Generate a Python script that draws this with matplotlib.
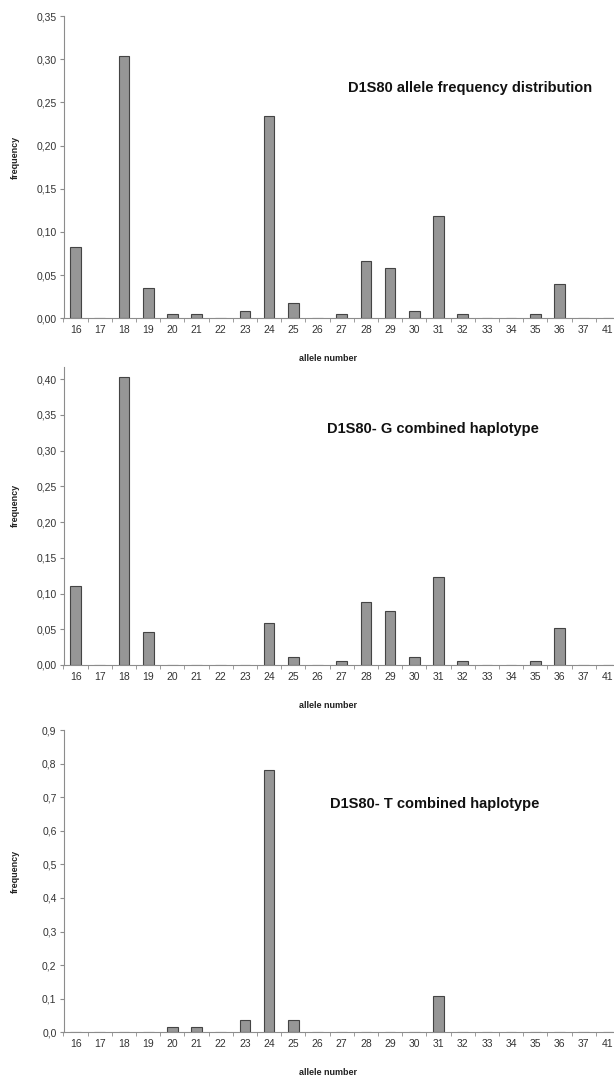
import matplotlib
matplotlib.use("Agg")
import matplotlib.pyplot as plt
import numpy as np

plt.rcParams['font.family'] = ['Liberation Sans', 'DejaVu Sans']

alleles = ["16", "17", "18", "19", "20", "21", "22", "23", "24", "25", "26", "27",
           "28", "29", "30", "31", "32", "33", "34", "35", "36", "37", "41"]

# frequencies
freq_all = [0.083, 0, 0.304, 0.035, 0.0045, 0.0045, 0, 0.009, 0.234, 0.018, 0, 0.0045,
            0.066, 0.058, 0.009, 0.118, 0.0045, 0, 0, 0.0045, 0.040, 0, 0]
freq_g = [0.111, 0, 0.403, 0.046, 0, 0, 0, 0, 0.059, 0.011, 0, 0.0056,
          0.088, 0.076, 0.011, 0.123, 0.0056, 0, 0, 0.0056, 0.052, 0, 0]
freq_t = [0, 0, 0, 0, 0.0167, 0.0167, 0, 0.037, 0.781, 0.037, 0, 0,
          0, 0, 0, 0.109, 0, 0, 0, 0, 0, 0, 0]

titles = ["D1S80 allele frequency distribution",
          "D1S80- G combined haplotype",
          "D1S80- T combined haplotype"]

W, H = 614, 1077
fig = plt.figure(figsize=(W / 100, H / 100), dpi=100)

# (top px, bottom px, ymax, yticks, fmt, title centre px)
panels = [
    (16, 318.3, 0.35, np.arange(0, 0.351, 0.05), "{:.2f}", (470, 88)),
    (366.7, 665, 0.4176, np.arange(0, 0.401, 0.05), "{:.2f}", (433, 429)),
    (730, 1032.3, 0.9, np.arange(0, 0.91, 0.1), "{:.1f}", (435, 804)),
]
data = [freq_all, freq_g, freq_t]
left_px, right_px = 63.5, 620
x = np.arange(len(alleles))

for (top, bot, ymax, yt, fmt, tpos), vals, title in zip(panels, data, titles):
    ax = fig.add_axes([left_px / W, 1 - bot / H, (right_px - left_px) / W, (bot - top) / H])
    ax.bar(x, vals, width=0.44, color="#969696", edgecolor="#444444", linewidth=0.8)
    ax.set_xlim(-0.5, len(alleles) - 0.5)
    ax.set_ylim(0, ymax)
    for s in ["top", "right"]:
        ax.spines[s].set_visible(False)
    for s in ["left", "bottom"]:
        ax.spines[s].set_color("#8c8c8c")
        ax.spines[s].set_linewidth(0.8)
    ax.set_xticks(x)
    ax.set_xticklabels(alleles)
    ax.set_xticks(np.arange(-0.5, len(alleles), 1), minor=True)
    ax.tick_params(axis="x", which="major", length=0, pad=5, labelsize=7.5, labelcolor="#333333")
    ax.tick_params(axis="x", which="minor", length=3, color="#8c8c8c", direction="out")
    ax.set_yticks(yt)
    ax.set_yticklabels([fmt.format(v).replace(".", ",") for v in yt])
    ax.tick_params(axis="y", length=3, color="#8c8c8c", direction="out", pad=2,
                   labelsize=7.5, labelcolor="#333333")

    fig.text(tpos[0] / W, 1 - tpos[1] / H, title, ha="center", va="center",
             fontsize=10.5, fontweight="bold", color="#111111")
    fig.text(15 / W, 1 - ((top + bot) / 2 - 10) / H, "frequency", rotation=90, ha="center",
             va="center", fontsize=6.5, fontweight="bold", color="#222222")
    fig.text(328 / W, 1 - (bot + 40) / H, "allele number", ha="center", va="center",
             fontsize=6.5, fontweight="bold", color="#222222")

fig.savefig("out.png", dpi=100)
